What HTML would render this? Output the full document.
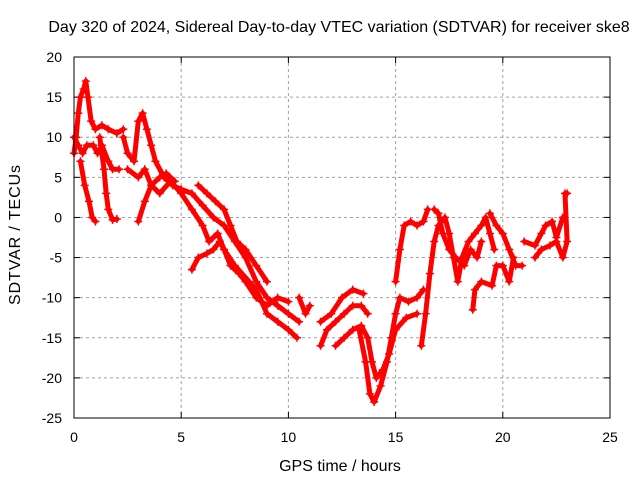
<!DOCTYPE html>
<html><head><meta charset="utf-8"><style>
body{margin:0;background:#fff;width:640px;height:480px;overflow:hidden}
svg text{font-family:"Liberation Sans",sans-serif;font-size:14px;fill:#000}
svg text.lab{font-size:16px}
</style></head><body>
<svg id="chart" width="640" height="480">
<text class="lab" x="339" y="32" text-anchor="middle">Day 320 of 2024, Sidereal Day-to-day VTEC variation (SDTVAR) for receiver ske8</text>
<text class="lab" x="340" y="471" text-anchor="middle">GPS time / hours</text>
<text class="lab" transform="translate(20,235) rotate(-90)" text-anchor="middle" textLength="140">SDTVAR / TECUs</text>
<g id="grid"></g>
<g id="axes"></g>
<g id="marks"></g>
<rect x="74" y="57" width="536" height="361" fill="none" stroke="#000"/>
</svg>
<script>
const xTicks=[0,5,10,15,20,25];
const yTicks=[-25,-20,-15,-10,-5,0,5,10,15,20];
const tracks=[
[[0,8],[0.1,10],[0.2,13],[0.3,15],[0.45,16],[0.55,17],[0.65,15],[0.8,12],[1.0,11],[1.3,11.5],[1.6,11],[2.0,10.5],[2.3,11]],
[[0,10],[0.2,9],[0.4,8],[0.6,9],[0.9,9],[1.1,8],[1.3,9],[1.6,7],[1.8,6],[2.1,6]],
[[0.3,7],[0.5,4],[0.7,2],[0.85,0],[1.0,-0.5]],
[[1.2,10],[1.4,6],[1.5,3],[1.6,1],[1.8,-0.3],[2.0,-0.2]],
[[2.3,10],[2.5,8],[2.8,7],[3.0,12],[3.2,13],[3.4,11],[3.6,9],[3.8,7],[4.2,5],[4.6,4],[5,3.5],[5.5,3],[6,1.5],[6.5,0],[7,-1],[7.5,-3],[8,-5],[8.5,-8],[9,-10],[9.5,-11],[10,-12],[10.5,-13]],
[[2.5,6],[3,5],[3.3,6],[3.6,4],[4,3],[4.5,4.5],[5,3],[5.5,1],[6,-1],[6.3,-3],[6.7,-2],[7,-4],[7.5,-6],[8.5,-9],[9,-12],[9.5,-13],[10,-14],[10.4,-15]],
[[3,-0.5],[3.3,2],[3.6,4],[4,5],[4.3,5.5],[4.7,4.5]],
[[5.5,-6.5],[5.8,-5],[6.2,-4.5],[6.5,-4],[6.8,-3],[7,-4],[7.3,-6],[7.7,-7],[8,-8],[8.5,-10],[9,-11],[9.5,-10],[10,-10.5]],
[[5.8,4],[6.2,3],[6.6,2],[7,1],[7.3,-1],[7.6,-3],[8,-4],[8.5,-6],[9,-8]],
[[10.5,-10],[10.8,-12],[11,-11]],
[[11.5,-16],[11.8,-14],[12.2,-13],[12.6,-12],[13,-11],[13.4,-11],[13.7,-12]],
[[11.5,-13],[12,-12],[12.5,-10],[13,-9],[13.5,-9.5]],
[[12.2,-16],[12.6,-15],[13,-14],[13.4,-13.5],[13.7,-15],[13.9,-18],[14.1,-20],[14.4,-19],[14.7,-17],[15,-14],[15.5,-12.5],[16,-12]],
[[13.3,-14],[13.6,-18],[13.8,-22],[14.0,-23],[14.3,-21],[14.6,-18],[14.8,-15],[15,-12],[15.2,-10],[15.6,-10.5],[16,-10],[16.3,-9]],
[[15,-8],[15.2,-4],[15.4,-1],[15.7,-0.5],[16,-1],[16.3,-0.5],[16.5,1]],
[[16.2,-16],[16.4,-12],[16.6,-7],[16.8,-3],[17,-1],[17.3,0],[17.5,-2],[17.7,-5],[17.9,-8],[18.1,-5],[18.4,-3],[18.7,-2],[19,-1],[19.2,0],[19.4,-2],[19.6,-4]],
[[16.8,1],[17,0.5],[17.2,-2],[17.5,-4],[17.8,-5],[18.2,-6],[18.5,-4],[18.8,-5],[19,-3]],
[[18.6,-11.5],[18.7,-9],[19,-8],[19.5,-8.5],[19.7,-6],[20,-6],[20.3,-8],[20.5,-5]],
[[19.4,0.5],[19.7,-1],[20,-2],[20.3,-4],[20.6,-6],[20.9,-6]],
[[21,-3],[21.5,-3.5],[21.8,-2],[22,-1],[22.3,-0.5],[22.5,-2.5],[22.8,0]],
[[21.5,-5],[21.8,-4],[22.2,-3.5],[22.5,-3],[22.8,-5],[23,-3],[22.9,3],[23,3]]
];
const NS='http://www.w3.org/2000/svg';
const X=v=>74+v*536/25, Y=v=>418-(v+25)*361/45;
const grid=document.getElementById('grid'),axes=document.getElementById('axes'),marks=document.getElementById('marks');
function mk(tag,attrs,parent){const e=document.createElementNS(NS,tag);for(const k in attrs)e.setAttribute(k,attrs[k]);parent.appendChild(e);return e;}
xTicks.forEach(t=>{
  if(t>0&&t<25){const g=mk('line',{x1:X(t),x2:X(t),y1:57,y2:418,stroke:'#a0a0a0','stroke-dasharray':'3,3'},grid);
  
  }
  mk('line',{x1:X(t),x2:X(t),y1:418,y2:412,stroke:'#000'},axes);
  mk('line',{x1:X(t),x2:X(t),y1:57,y2:63,stroke:'#000'},axes);
  const l=mk('text',{x:X(t),y:442,'text-anchor':'middle'},axes);l.textContent=t;
  
  
});
yTicks.forEach(t=>{
  if(t>-25&&t<20){const g=mk('line',{x1:74,x2:610,y1:Y(t),y2:Y(t),stroke:'#a0a0a0','stroke-dasharray':'3,3'},grid);
  
  }
  mk('line',{x1:74,x2:80,y1:Y(t),y2:Y(t),stroke:'#000'},axes);
  mk('line',{x1:604,x2:610,y1:Y(t),y2:Y(t),stroke:'#000'},axes);
  const l=mk('text',{x:62,y:Y(t)+5,'text-anchor':'end'},axes);l.textContent=t;
  
  
});
tracks.forEach(tr=>{
  const p=mk('polyline',{points:tr.map(d=>X(d[0])+','+Y(d[1])).join(' '),fill:'none',stroke:'#f00','stroke-width':5,'stroke-linejoin':'round','stroke-linecap':'round'},marks);
  
  
  tr.forEach(d=>{
    const x=X(d[0]),y=Y(d[1]);
    const m=mk('path',{d:`M${x-4},${y}H${x+4}M${x},${y-4}V${y+4}`,stroke:'#f00','stroke-width':1.5},marks);
    
    
  });
});
</script>
</body></html>
